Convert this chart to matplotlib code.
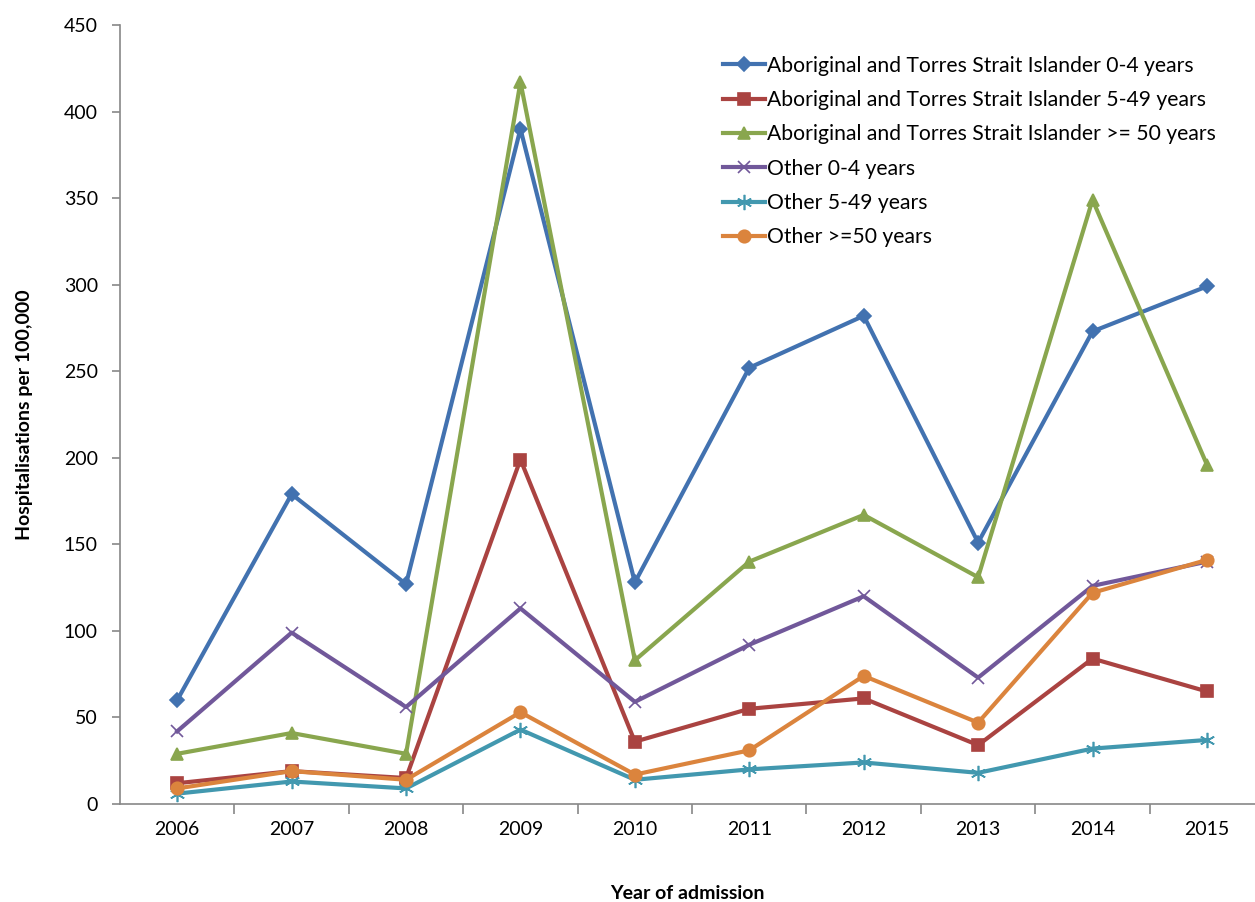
import matplotlib.pyplot as plt
import numpy as np

plt.rcParams['font.family'] = ['Lato', 'DejaVu Sans']

years = ['2006', '2007', '2008', '2009', '2010', '2011', '2012', '2013', '2014', '2015']

atsi_0_4 = [60, 179, 127, 390, 128, 252, 282, 151, 273, 299]
atsi_5_49 = [12, 19, 15, 199, 36, 55, 61, 34, 84, 65]
atsi_50 = [29, 41, 29, 417, 83, 140, 167, 131, 349, 196]
other_0_4 = [42, 99, 56, 113, 59, 92, 120, 73, 126, 140]
other_5_49 = [6, 13, 9, 43, 14, 20, 24, 18, 32, 37]
other_50 = [9, 19, 14, 53, 17, 31, 74, 47, 122, 141]

series = [
    ('Aboriginal and Torres Strait Islander 0-4 years', atsi_0_4, '#4272b0', 'D', 7),
    ('Aboriginal and Torres Strait Islander 5-49 years', atsi_5_49, '#aa4341', 's', 9),
    ('Aboriginal and Torres Strait Islander >= 50 years', atsi_50, '#89a64e', '^', 9),
    ('Other 0-4 years', other_0_4, '#71589a', 'x', 9),
    ('Other 5-49 years', other_5_49, '#4298af', (6, 2, 0), 11),
    ('Other >=50 years', other_50, '#db843d', 'o', 9),
]

fig = plt.figure(figsize=(12.55, 9.02), dpi=100)
ax = fig.add_axes([120 / 1255, 1 - 804 / 902, 1 - 120 / 1255, (804 - 25) / 902])

x = np.arange(len(years))
for label, vals, color, marker, ms in series:
    ax.plot(x, vals, color=color, marker=marker, markersize=ms, linewidth=3,
            markeredgewidth=1.2, markeredgecolor=color, label=label)

ax.set_ylim(0, 450)
ax.set_yticks(np.arange(0, 451, 50))
ax.set_xlim(-0.5, 9.42)
ax.set_xticks(x)
ax.set_xticklabels(years)
ax.set_xticks(np.arange(0.5, 9.0, 1), minor=True)
ax.tick_params(axis='x', which='major', length=0, pad=12, labelsize=14)
ax.tick_params(axis='x', which='minor', length=7, color='#888888', width=1.2)
ax.tick_params(axis='y', length=6, color='#888888', width=1.2, labelsize=14, pad=10)

for s in ['top', 'right']:
    ax.spines[s].set_visible(False)
for s in ['left', 'bottom']:
    ax.spines[s].set_color('#888888')
    ax.spines[s].set_linewidth(1.2)

ax.set_xlabel('Year of admission', fontsize=14, fontweight='bold', labelpad=34)
ax.set_ylabel('Hospitalisations per 100,000', fontsize=14, fontweight='bold')
ax.yaxis.set_label_coords(-0.077, 0.5)

ax.legend(loc='upper right', bbox_to_anchor=(0.982, 0.985), frameon=False, fontsize=15.2,
          handlelength=1.95, handletextpad=0.1, labelspacing=0.68)

fig.savefig('out.png', dpi=100)
